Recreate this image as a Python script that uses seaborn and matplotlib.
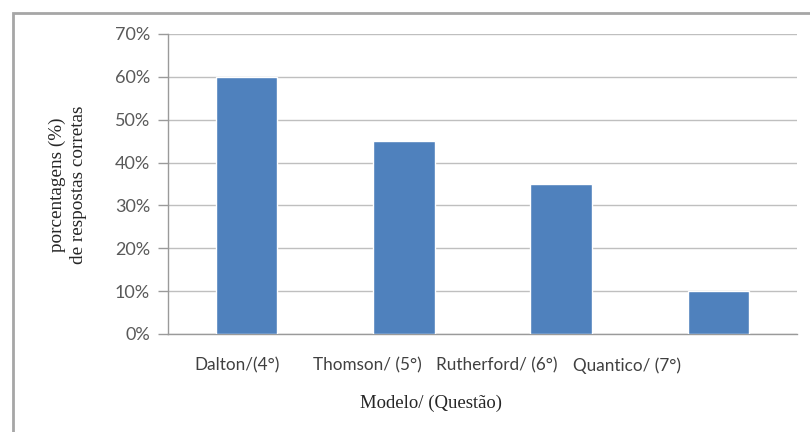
import matplotlib
matplotlib.use("Agg")
import matplotlib.pyplot as plt
from matplotlib.patches import Rectangle
from matplotlib.ticker import FuncFormatter
import seaborn as sns
import pandas as pd

categories = ["Dalton/(4°)", "Thomson/ (5°)", "Rutherford/ (6°)", "Quantico/ (7°)"]
values = [60, 45, 35, 10]
y_ticks = [0, 10, 20, 30, 40, 50, 60, 70]
x_title = "Modelo/ (Questão)"
y_title = "porcentagens (%)\nde respostas corretas"

df = pd.DataFrame({"modelo": categories, "pct": values})

sns.set_style("white")
plt.rcParams["font.family"] = ["Lato", "DejaVu Sans"]

fig = plt.figure(figsize=(8.10, 4.32), dpi=100)
ax = fig.add_axes([168 / 810, 1 - 334 / 432, (797 - 168) / 810, (334 - 34) / 432])

sns.barplot(data=df, x="modelo", y="pct", color="#4F81BD", saturation=1,
            width=0.39, ax=ax, zorder=3)

ax.set_ylim(0, 70)
ax.set_xlim(-0.5, len(categories) - 0.5)
ax.set_yticks(y_ticks)
ax.yaxis.set_major_formatter(FuncFormatter(lambda v, p: f"{int(v)}%"))
ax.grid(axis="y", color="#BFBFBF", linewidth=1.0, zorder=0)
ax.set_axisbelow(True)

for s in ["top", "right"]:
    ax.spines[s].set_visible(False)
ax.spines["left"].set_color("#9A9A9A")
ax.spines["bottom"].set_color("#9A9A9A")
ax.spines["left"].set_linewidth(1.0)
ax.spines["bottom"].set_linewidth(1.0)

ax.tick_params(axis="y", which="major", length=7, width=1, color="#9A9A9A",
               labelsize=13, labelcolor="#595959", pad=6, left=True)
# label positions (the reference's category labels sit slightly compressed)
label_pos = [-0.06, 0.766, 1.59, 2.42]
ax.set_xticks(label_pos)
ax.set_xticklabels(categories)
ax.tick_params(axis="x", length=0, labelsize=12.3, labelcolor="#404040", pad=17)

ax.set_xlabel("")
ax.set_ylabel("")
fig.text(431 / 810, 1 - 403 / 432, x_title, ha="center", va="center",
         fontsize=13.5, family="Liberation Serif", color="#262626")
fig.text(68 / 810, 1 - 185 / 432, y_title, ha="center", va="center",
         rotation=90, fontsize=13.8, family="Liberation Serif", color="#262626",
         linespacing=1.3, multialignment="center")

frame = Rectangle((13 / 810, -0.2), 1.2, 1 - 13 / 432 + 0.2,
                  transform=fig.transFigure, fill=False,
                  edgecolor="#A6A6A6", linewidth=2.0, clip_on=False)
fig.patches.append(frame)

fig.savefig("out.png", dpi=100, facecolor="white")
